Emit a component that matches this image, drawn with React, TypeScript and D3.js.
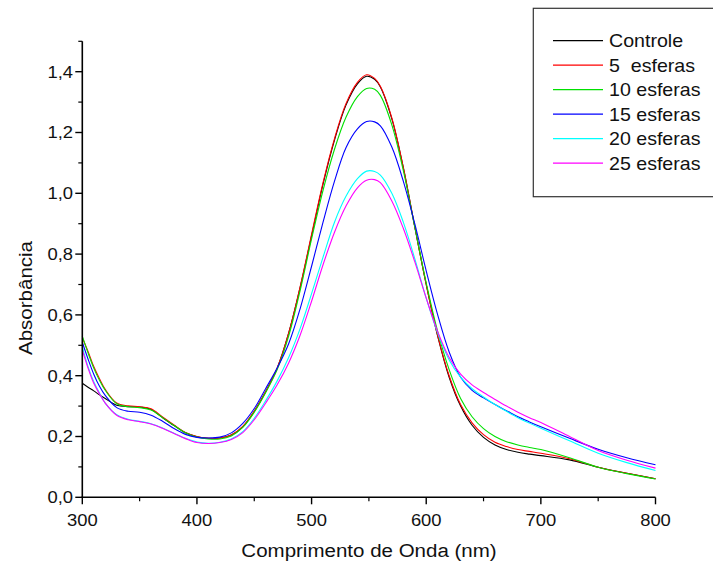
import React from "react";
import * as d3 from "d3";

const wavelengths = [300, 305, 310, 315, 320, 330, 340, 350, 360, 370, 380, 390, 400, 410, 420, 430, 440, 450, 460, 470, 480, 490, 500, 510, 520, 530, 540, 548, 555, 560, 570, 580, 590, 600, 610, 620, 630, 640, 650, 660, 670, 680, 690, 700, 725, 750, 775, 800];

const controle = [0.375, 0.362, 0.35, 0.337, 0.325, 0.303, 0.298, 0.297, 0.289, 0.262, 0.236, 0.212, 0.199, 0.194, 0.195, 0.205, 0.232, 0.283, 0.348, 0.425, 0.54, 0.69, 0.86, 1.03, 1.175, 1.29, 1.36, 1.385, 1.375, 1.35, 1.245, 1.085, 0.89, 0.7, 0.53, 0.395, 0.3, 0.237, 0.197, 0.172, 0.157, 0.148, 0.142, 0.137, 0.123, 0.099, 0.079, 0.061];
const esferas5 = [0.525, 0.48, 0.43, 0.39, 0.355, 0.31, 0.301, 0.298, 0.291, 0.264, 0.238, 0.213, 0.2, 0.194, 0.195, 0.205, 0.233, 0.283, 0.348, 0.425, 0.54, 0.692, 0.865, 1.035, 1.18, 1.295, 1.365, 1.39, 1.378, 1.352, 1.248, 1.085, 0.89, 0.7, 0.532, 0.4, 0.305, 0.245, 0.206, 0.181, 0.167, 0.157, 0.151, 0.145, 0.127, 0.099, 0.079, 0.061];
const esferas10 = [0.53, 0.475, 0.425, 0.385, 0.352, 0.308, 0.298, 0.295, 0.287, 0.262, 0.236, 0.212, 0.198, 0.192, 0.192, 0.202, 0.23, 0.28, 0.345, 0.42, 0.53, 0.68, 0.85, 1.01, 1.145, 1.25, 1.318, 1.345, 1.342, 1.322, 1.225, 1.075, 0.89, 0.705, 0.545, 0.42, 0.325, 0.265, 0.226, 0.2, 0.183, 0.172, 0.164, 0.157, 0.13, 0.099, 0.078, 0.06];
const esferas15 = [0.51, 0.455, 0.405, 0.365, 0.335, 0.295, 0.283, 0.28, 0.27, 0.25, 0.226, 0.207, 0.197, 0.195, 0.198, 0.212, 0.243, 0.292, 0.358, 0.425, 0.505, 0.62, 0.76, 0.905, 1.04, 1.15, 1.212, 1.236, 1.235, 1.222, 1.152, 1.04, 0.9, 0.745, 0.6, 0.478, 0.395, 0.352, 0.327, 0.305, 0.285, 0.265, 0.248, 0.232, 0.194, 0.158, 0.13, 0.107];
const esferas20 = [0.495, 0.43, 0.38, 0.343, 0.31, 0.272, 0.257, 0.25, 0.242, 0.228, 0.211, 0.194, 0.182, 0.178, 0.181, 0.192, 0.216, 0.26, 0.318, 0.383, 0.46, 0.555, 0.67, 0.79, 0.905, 0.99, 1.048, 1.073, 1.072, 1.06, 1.0, 0.905, 0.785, 0.655, 0.54, 0.452, 0.395, 0.357, 0.33, 0.305, 0.283, 0.262, 0.244, 0.227, 0.186, 0.145, 0.114, 0.088];
const esferas25 = [0.485, 0.425, 0.375, 0.34, 0.31, 0.27, 0.255, 0.249, 0.241, 0.227, 0.21, 0.193, 0.18, 0.177, 0.18, 0.19, 0.213, 0.255, 0.31, 0.37, 0.442, 0.533, 0.645, 0.765, 0.872, 0.958, 1.018, 1.043, 1.045, 1.035, 0.975, 0.885, 0.775, 0.655, 0.545, 0.46, 0.405, 0.37, 0.345, 0.322, 0.3, 0.28, 0.262, 0.246, 0.2, 0.154, 0.122, 0.096];

const seriesNames = ["Controle", "5  esferas", "10 esferas", "15 esferas", "20 esferas", "25 esferas"];
const seriesValues = [controle, esferas5, esferas10, esferas15, esferas20, esferas25];
const seriesColors = ["#000000", "#ff0000", "#00e000", "#0000ff", "#00ffff", "#ff00ff"];

const xTicks = [300, 400, 500, 600, 700, 800];
const xMinorTicks = [350, 450, 550, 650, 750];
const yTicks = [0, 0.2, 0.4, 0.6, 0.8, 1.0, 1.2, 1.4];
const yMinorTicks = [0.1, 0.3, 0.5, 0.7, 0.9, 1.1, 1.3, 1.5];

const fmt = (v: number) => v.toFixed(1).replace(".", ",");

export default function App() {
  const x = d3.scaleLinear().domain([300, 800]).range([82.3, 655.5]);
  const y = d3.scaleLinear().domain([0, 1.5]).range([497.3, 41.3]);
  const line = d3
    .line<[number, number]>()
    .x((d) => x(d[0]))
    .y((d) => y(d[1]))
    .curve(d3.curveCatmullRom.alpha(0.5));

  const font = "Arial, 'Liberation Sans', sans-serif";
  const x0 = x(300);
  const y0 = y(0);

  return (
    <svg
      width={713}
      height={564}
      style={{ position: "absolute", left: 0, top: 0, background: "#fff" }}
      fontFamily={font}
    >
      <rect x={0} y={0} width={713} height={564} fill="#fff" />
      {seriesValues.map((vals, i) => (
        <path
          key={seriesNames[i]}
          d={line(wavelengths.map((w, j) => [w, vals[j]]) as [number, number][]) || ""}
          fill="none"
          stroke={seriesColors[i]}
          strokeWidth={1.1}
        />
      ))}
      {/* axes */}
      <line x1={x0} x2={x0} y1={y(1.5)} y2={y0 + 0.8} stroke="#000" strokeWidth={1.6} />
      <line x1={x0 - 0.8} x2={x(800)} y1={y0} y2={y0} stroke="#000" strokeWidth={1.6} />
      {xTicks.map((t) => (
        <g key={"xt" + t}>
          <line x1={x(t)} x2={x(t)} y1={y0} y2={y0 + 7} stroke="#000" strokeWidth={1.4} />
          <text
            transform={`translate(${x(t)},${526}) scale(1.15,1)`}
            textAnchor="middle"
            fontSize={16}
            fill="#111"
          >
            {t}
          </text>
        </g>
      ))}
      {xMinorTicks.map((t) => (
        <line key={"xm" + t} x1={x(t)} x2={x(t)} y1={y0} y2={y0 + 4} stroke="#000" strokeWidth={1.2} />
      ))}
      {yTicks.map((t) => (
        <g key={"yt" + t}>
          <line x1={x0 - 7} x2={x0} y1={y(t)} y2={y(t)} stroke="#000" strokeWidth={1.4} />
          <text
            transform={`translate(${73},${y(t) + 5.8}) scale(1.15,1)`}
            textAnchor="end"
            fontSize={16}
            fill="#111"
          >
            {fmt(t)}
          </text>
        </g>
      ))}
      {yMinorTicks.map((t) => (
        <line key={"ym" + t} x1={x0 - 4} x2={x0} y1={y(t)} y2={y(t)} stroke="#000" strokeWidth={1.2} />
      ))}
      {/* axis titles */}
      <text
        transform={`translate(369,557) scale(1.08,1)`}
        textAnchor="middle"
        fontSize={19}
        fill="#111"
      >
        Comprimento de Onda (nm)
      </text>
      <text
        transform={`translate(32,298) rotate(-90) scale(1.08,1)`}
        textAnchor="middle"
        fontSize={19}
        fill="#111"
      >
        Absorbância
      </text>
      {/* legend */}
      <rect x={533.3} y={8.3} width={190} height={188.4} fill="#fff" stroke="#333" strokeWidth={1.2} />
      {seriesNames.map((name, i) => {
        const ly = 40.7 + i * 24.5;
        return (
          <g key={"lg" + name}>
            <line x1={553} x2={603} y1={ly} y2={ly} stroke={seriesColors[i]} strokeWidth={1.2} />
            <text
              transform={`translate(609,${ly + 6.6}) scale(1.06,1)`}
              fontSize={18.5}
              fill="#111"
              style={{ whiteSpace: "pre" }}
              xmlSpace="preserve"
            >
              {name}
            </text>
          </g>
        );
      })}
    </svg>
  );
}
